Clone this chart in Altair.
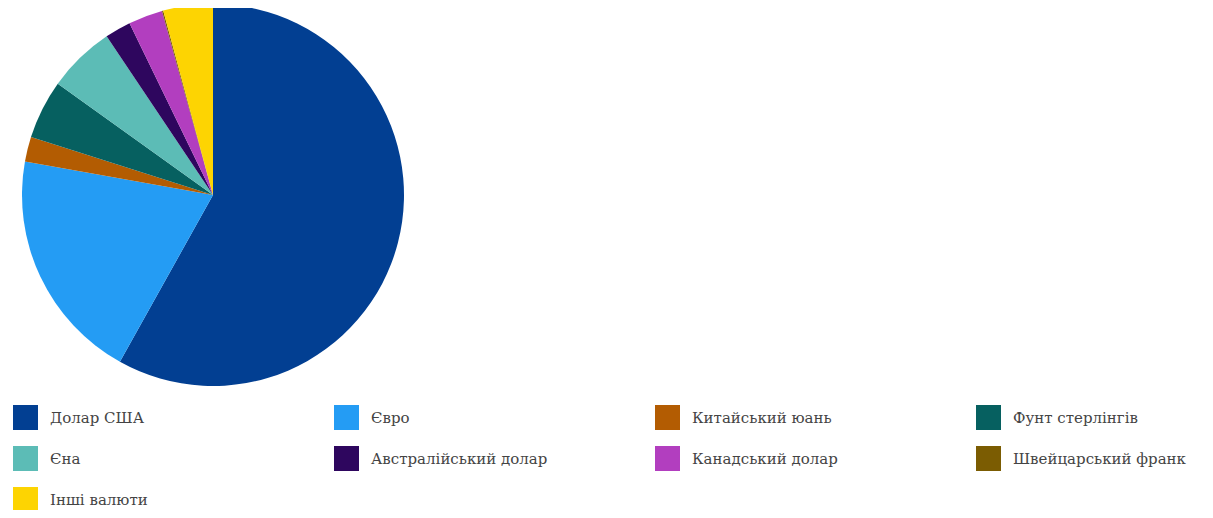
import altair as alt
import pandas as pd

currencies = ["Долар США", "Євро", "Китайський юань", "Фунт стерлінгів", "Єна",
              "Австралійський долар", "Канадський долар", "Швейцарський франк", "Інші валюти"]
shares = [58.1, 19.7, 2.1, 5.0, 5.7, 2.2, 2.9, 0.1, 4.2]
colors = ["#023f92", "#249cf4", "#b35c02", "#066060", "#5cbcb6",
          "#2e065e", "#b23ebf", "#7b5c02", "#fdd402"]

df = pd.DataFrame({"currency": currencies, "share": shares, "idx": list(range(len(currencies)))})

chart = alt.Chart(df).mark_arc(outerRadius=191, strokeWidth=0).encode(
    theta=alt.Theta("share:Q", stack=True),
    order=alt.Order("idx:Q"),
    color=alt.Color(
        "currency:N",
        scale=alt.Scale(domain=currencies, range=colors),
        sort=currencies,
        legend=alt.Legend(
            title=None, orient="none", legendX=5, legendY=397, columns=4,
            direction="horizontal",
            symbolType="square", symbolSize=625, symbolStrokeWidth=0, symbolOpacity=1,
            labelFont="DejaVu Serif", labelFontSize=15, labelColor="#444444",
            labelOffset=12, columnPadding=107, rowPadding=16, gridAlign="all",
            labelLimit=300,
        ),
    ),
    x=alt.value(205),
    y=alt.value(187),
).properties(
    width=1197, height=502, autosize=alt.AutoSizeParams(type="none"), padding=0
).configure_view(stroke=None)

chart.save("out.html", embed_options={"renderer": "svg", "actions": False})
